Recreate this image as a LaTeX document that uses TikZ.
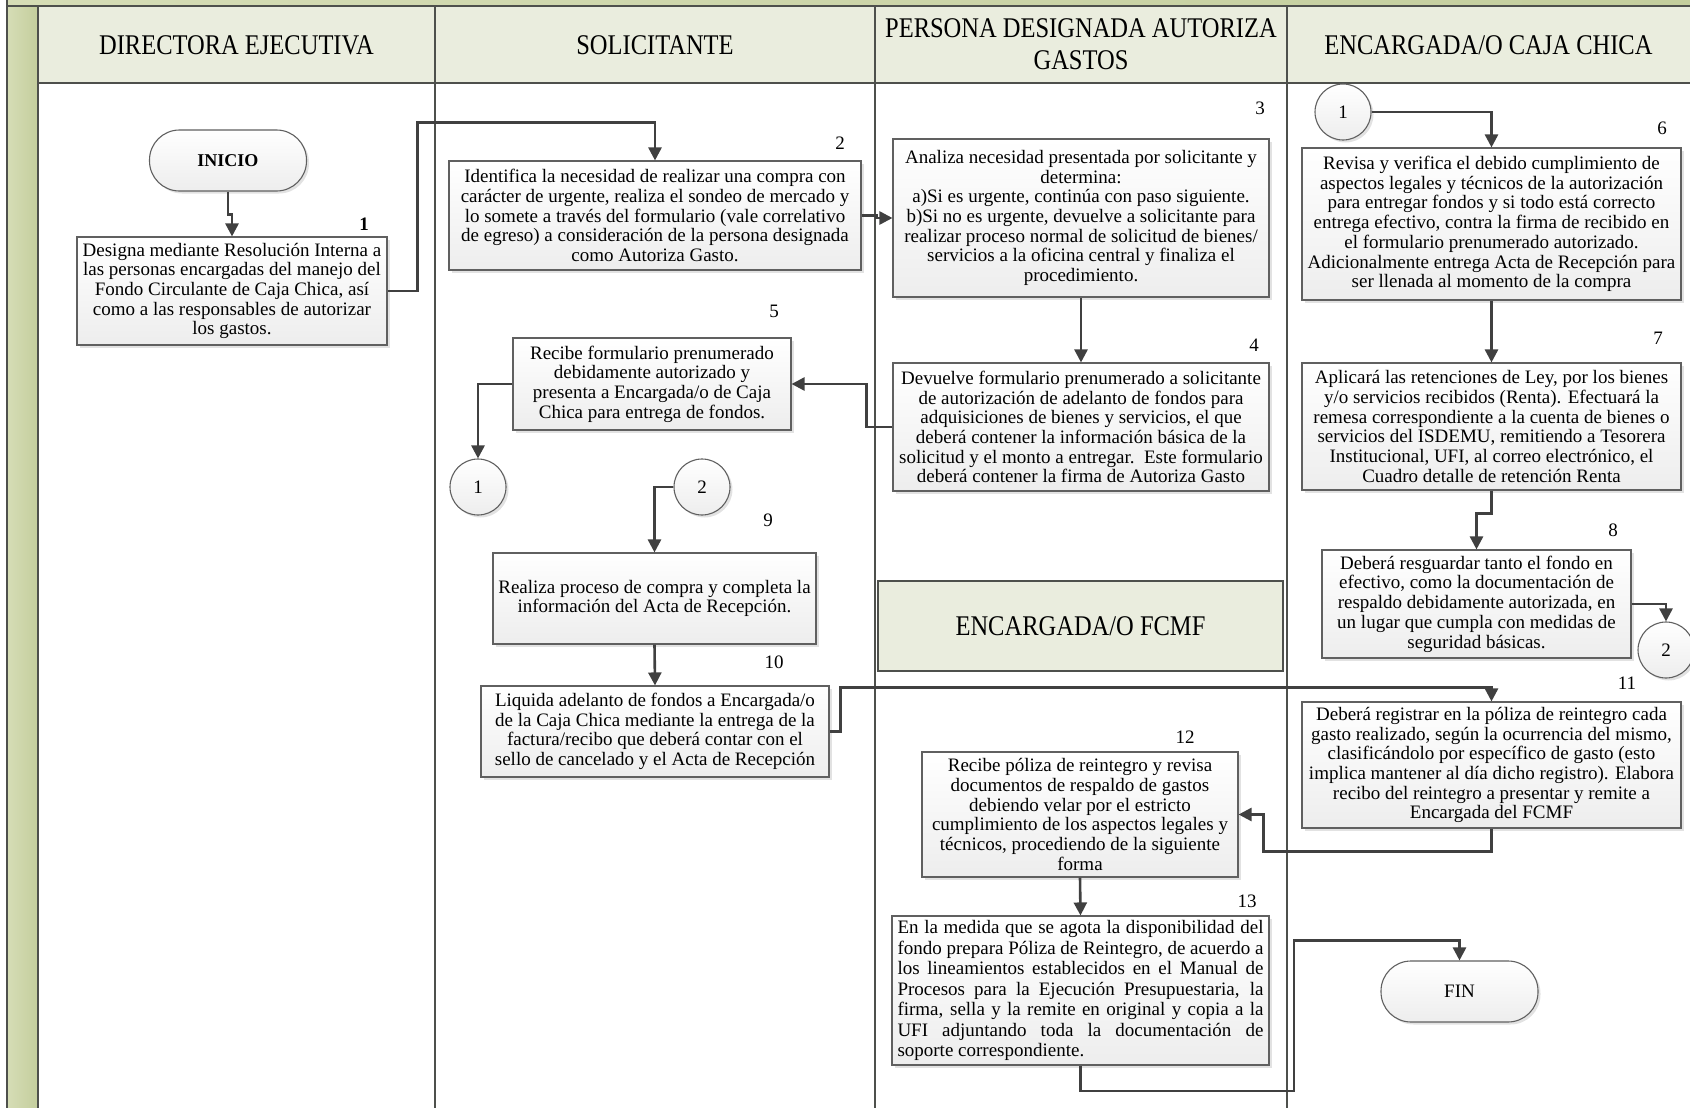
\documentclass[tikz,border=0pt]{standalone}
\usepackage{fontspec}
\setmainfont{Liberation Serif}
\newfontfamily\headfont{Liberation Serif}[FakeStretch=0.86]
\usetikzlibrary{arrows.meta,shadows}

\definecolor{olivel}{RGB}{214,221,182}
\definecolor{olived}{RGB}{196,206,157}
\definecolor{headfill}{RGB}{234,237,222}
\definecolor{lanec}{RGB}{78,80,76}
\definecolor{linec}{RGB}{64,64,64}
\definecolor{boxc}{RGB}{96,96,96}

\newcommand\justline[1]{\makebox[366pt][s]{#1}}

\tikzset{
  lane/.style={draw=lanec, line width=2.2pt},
  head/.style={font=\headfont\fontsize{28.5}{32}\selectfont, align=center},
  stepbox/.style={draw=boxc, line width=1.1pt, top color=white, bottom color=gray!14,
    drop shadow={shadow xshift=2.5pt, shadow yshift=-2.5pt, fill=gray!45, opacity=.5},
    align=center, font=\fontsize{19}{19.7}\selectfont, inner sep=2pt},
  term/.style={stepbox, rounded corners=30pt, minimum width=157, minimum height=61},
  link/.style={stepbox, circle, minimum size=56, inner sep=0pt},
  num/.style={font=\fontsize{19}{19.7}\selectfont, inner sep=0pt},
  flow/.style={draw=linec, line width=2.6pt, -{Triangle[width=13pt,length=13pt]}},
}

\begin{document}
\begin{tikzpicture}[x=1pt, y=-1pt]
  \useasboundingbox (0,0) rectangle (1690,1108);

  % lanes
  \fill[left color=olivel, right color=olived] (7,0) rectangle (1690,6);
  \fill[left color=olivel, right color=olived] (7,6) rectangle (38,1108);
  \fill[headfill] (38,6) rectangle (1690,83);
  \draw[lane] (7,0) -- (7,1108);
  \draw[lane] (7,6) -- (1690,6);
  \draw[lane] (38,83) -- (1690,83);
  \foreach \x in {38,435,875,1287}
    \draw[lane] (\x,6) -- (\x,1108);

  \node[head] (h1) at (236.5,45) {DIRECTORA EJECUTIVA};
  \node[head] (h2) at (655,45) {SOLICITANTE};
  \node[head] (h3) at (1081,44) {PERSONA DESIGNADA AUTORIZA\\GASTOS};
  \node[head] (h4) at (1488.5,45) {ENCARGADA/O CAJA CHICA};
  \node[head, draw=lanec, line width=1.4pt, fill=headfill, minimum width=405, minimum height=90]
    (h5) at (1080.5,626) {ENCARGADA/O FCMF};

  % steps
  \node[term, font=\bfseries\fontsize{18}{19.5}\selectfont] (inicio) at (228,160.5) {INICIO};
  \node[stepbox, minimum width=310, minimum height=108] (p1) at (232,291)
    {Designa mediante Resolución Interna a\\las personas encargadas del manejo del\\Fondo Circulante de Caja Chica, así\\como a las responsables de autorizar\\los gastos.};
  \node[stepbox, minimum width=412, minimum height=109] (p2) at (655,215.5)
    {Identifica la necesidad de realizar una compra con\\carácter de urgente, realiza el sondeo de mercado y\\lo somete a través del formulario (vale correlativo\\de egreso) a consideración de la persona designada\\como Autoriza Gasto.};
  \node[stepbox, minimum width=376, minimum height=158] (p3) at (1081,218)
    {Analiza necesidad presentada por solicitante y\\determina:\\a)Si es urgente, continúa con paso siguiente.\\b)Si no es urgente, devuelve a solicitante para\\realizar proceso normal de solicitud de bienes/\\servicios a la oficina central y finaliza el\\procedimiento.};
  \node[stepbox, minimum width=376, minimum height=128] (p4) at (1081,427)
    {Devuelve formulario prenumerado a solicitante\\de autorización de adelanto de fondos para\\adquisiciones de bienes y servicios, el que\\deberá contener la información básica de la\\solicitud y el monto a entregar.\ \ Este formulario\\deberá contener la firma de Autoriza Gasto};
  \node[stepbox, minimum width=278, minimum height=92] (p5) at (652,384)
    {Recibe formulario prenumerado\\debidamente autorizado y\\presenta a Encargada/o de Caja\\Chica para entrega de fondos.};
  \node[stepbox, minimum width=379, minimum height=152] (p6) at (1491.5,224)
    {Revisa y verifica el debido cumplimiento de\\aspectos legales y técnicos de la autorización\\para entregar fondos y si todo está correcto\\entrega efectivo, contra la firma de recibido en\\el formulario prenumerado autorizado.\\Adicionalmente entrega Acta de Recepción para\\ser llenada al momento de la compra};
  \node[stepbox, minimum width=379, minimum height=127] (p7) at (1491.5,426.5)
    {Aplicará las retenciones de Ley, por los bienes\\y/o servicios recibidos (Renta). Efectuará la\\remesa correspondiente a la cuenta de bienes o\\servicios del ISDEMU, remitiendo a Tesorera\\Institucional, UFI, al correo electrónico, el\\Cuadro detalle de retención Renta};
  \node[stepbox, minimum width=309, minimum height=108] (p8) at (1476.5,604)
    {Deberá resguardar tanto el fondo en\\efectivo, como la documentación de\\respaldo debidamente autorizada, en\\un lugar que cumpla con medidas de\\seguridad básicas.};
  \node[stepbox, minimum width=323, minimum height=91] (p9) at (654.5,598.5)
    {Realiza proceso de compra y completa la\\información del Acta de Recepción.};
  \node[stepbox, minimum width=348, minimum height=91] (p10) at (655,731.5)
    {Liquida adelanto de fondos a Encargada/o\\de la Caja Chica mediante la entrega de la\\factura/recibo que deberá contar con el\\sello de cancelado y el Acta de Recepción};
  \node[stepbox, minimum width=379, minimum height=126] (p11) at (1491.5,765)
    {Deberá registrar en la póliza de reintegro cada\\gasto realizado, según la ocurrencia del mismo,\\clasificándolo por específico de gasto (esto\\implica mantener al día dicho registro). Elabora\\recibo del reintegro a presentar y remite a\\Encargada del FCMF};
  \node[stepbox, minimum width=316, minimum height=125] (p12) at (1080,814.5)
    {Recibe póliza de reintegro y revisa\\documentos de respaldo de gastos\\debiendo velar por el estricto\\cumplimiento de los aspectos legales y\\técnicos, procediendo de la siguiente\\forma};
  \node[stepbox, minimum width=377, minimum height=149, align=left, font=\fontsize{19}{20.5}\selectfont] (p13) at (1080.5,990.5)
    {\justline{En la medida que se agota la disponibilidad del}\\
     \justline{fondo prepara Póliza de Reintegro, de acuerdo a}\\
     \justline{los lineamientos establecidos en el Manual de}\\
     \justline{Procesos para la Ejecución Presupuestaria, la}\\
     \justline{firma, sella y la remite en original y copia a la}\\
     \justline{UFI adjuntando toda la documentación de}\\
     soporte correspondiente.};
  \node[term] (fin) at (1459.5,991.5) {FIN};

  % off-page links
  \node[link] (c1a) at (478,487) {1};
  \node[link] (c2a) at (702,487) {2};
  \node[link] (c1b) at (1343,112) {1};
  \node[link] (c2b) at (1666,650) {2};

  % step numbers
  \node[num] (n1) at (364,224) {\textbf{1}};
  \node[num] (n2) at (840,143) {2};
  \node[num] (n3) at (1260,108) {3};
  \node[num] (n4) at (1254,345) {4};
  \node[num] (n5) at (774,311) {5};
  \node[num] (n6) at (1662,128) {6};
  \node[num] (n7) at (1658,338) {7};
  \node[num] (n8) at (1613,530) {8};
  \node[num] (n9) at (768,520) {9};
  \node[num] (n10) at (774,662) {10};
  \node[num] (n11) at (1627,683) {11};
  \node[num] (n12) at (1185,737) {12};
  \node[num] (n13) at (1247,901) {13};

  % flow
  \draw[flow] (inicio.south) -- ++(0,23) -| (p1.north);
  \draw[flow] (p1.east) -- ++(30,0) |- ([yshift=38pt]p2.north) -- (p2.north);
  \draw[flow] (p2.east) -- ++(15,0) |- (p3.west);
  \draw[flow] (p3.south) -- (p4.north);
  \draw[flow] (p4.west) -- ++(-26,0) |- (p5.east);
  \draw[flow] (p5.west) -| (c1a.north);
  \draw[flow] (c1b.east) -| (p6.north);
  \draw[flow] (p6.south) -- (p7.north);
  \draw[flow] (p7.south) -- ++(0,23) -| (p8.north);
  \draw[flow] (p8.east) -| (c2b.north);
  \draw[flow] (c2a.west) -| (p9.north);
  \draw[flow] (p9.south) -- (p10.north);
  \draw[flow] (p10.east) -- ++(11,0) |- ([yshift=14pt]p11.north) -- (p11.north);
  \draw[flow] (p11.south) -- ++(0,23) -| ([xshift=25pt]p12.east) -- (p12.east);
  \draw[flow] (p12.south) -- (p13.north);
  \draw[flow] (p13.south) |- (1294,1091) |- ([yshift=20pt]fin.north) -- (fin.north);
\end{tikzpicture}
\end{document}
